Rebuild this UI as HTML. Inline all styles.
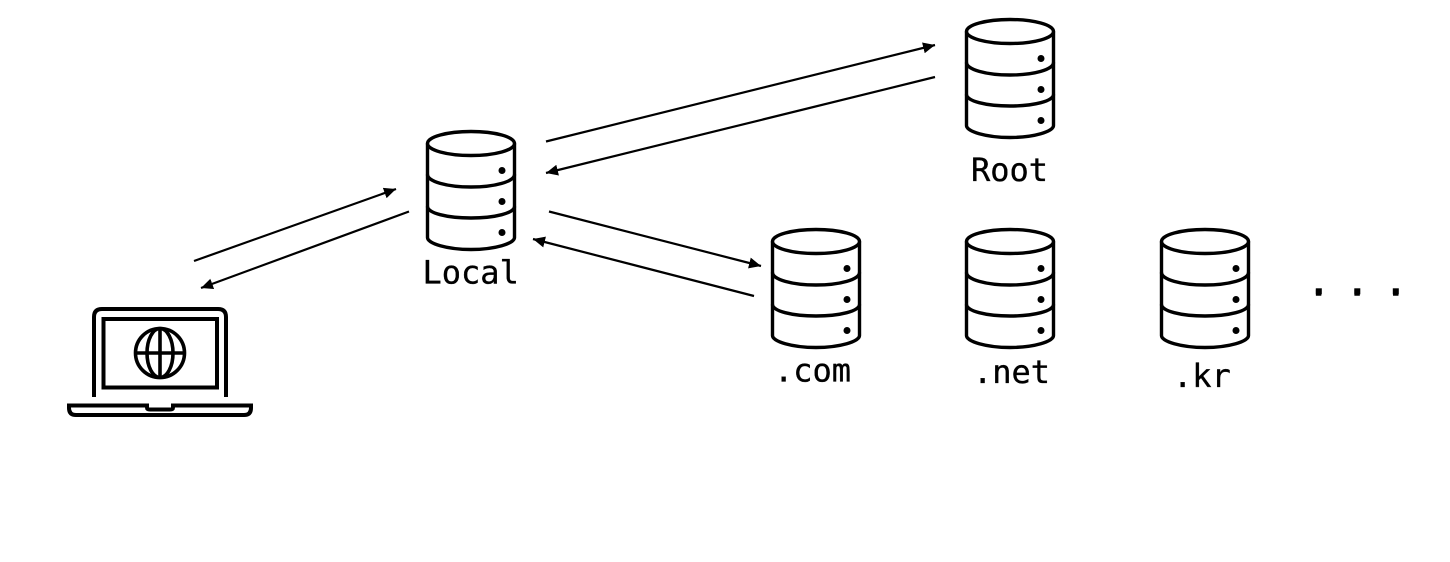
<!DOCTYPE html>
<html>
<head>
<meta charset="utf-8">
<style>
html,body{margin:0;padding:0;background:#fff;width:1450px;height:562px;overflow:hidden}
svg{display:block}
text{font-family:"DejaVu Sans Mono","Liberation Mono",monospace;font-size:32px;fill:#000;stroke:#000;stroke-width:.35px}
</style>
</head>
<body>
<svg width="1450" height="562" viewBox="0 0 1450 562" xmlns="http://www.w3.org/2000/svg">
<defs>
<g id="db" fill="none" stroke="#000" stroke-width="3.4">
<ellipse cx="44" cy="13" rx="43.5" ry="12"/>
<path d="M0.5 13V107C0.5 113 20 119 44 119S87.500 113 87.500 107V13"/>
<path d="M0.5 44C0.500 51 20 56.500 44 56.500S87.500 51 87.500 44"/>
<path d="M0.5 76C0.500 82.500 20 87.500 44 87.500S87.500 82.500 87.500 76"/>
<circle cx="75" cy="40" r="3.500" fill="#000" stroke="none"/>
<circle cx="75" cy="71" r="3.500" fill="#000" stroke="none"/>
<circle cx="75" cy="102" r="3.500" fill="#000" stroke="none"/>
</g>
<marker id="a" markerUnits="userSpaceOnUse" markerWidth="13" markerHeight="11" refX="12" refY="5.500" orient="auto">
<path d="M0 0L12 5.500L0 11Z" fill="#000"/>
</marker>
</defs>

<use href="#db" x="427" y="130.500"/>
<use href="#db" x="966" y="18.500"/>
<use href="#db" x="772" y="228.500"/>
<use href="#db" x="966" y="228.500"/>
<use href="#db" x="1161" y="228.500"/>

<g stroke="#000" stroke-width="2.200" fill="none">
<line x1="194" y1="261" x2="396" y2="189" marker-end="url(#a)"/>
<line x1="409" y1="211.500" x2="201" y2="288" marker-end="url(#a)"/>
<line x1="546" y1="141.500" x2="935" y2="45" marker-end="url(#a)"/>
<line x1="935" y1="77" x2="546" y2="173" marker-end="url(#a)"/>
<line x1="549" y1="211.500" x2="761" y2="266" marker-end="url(#a)"/>
<line x1="754" y1="296" x2="533" y2="239" marker-end="url(#a)"/>
</g>

<g fill="none" stroke="#000" stroke-width="4">
<path d="M94 397V317Q94 309 102 309H218Q226 309 226 317V397"/>
<rect x="103.500" y="319" width="113.500" height="68.500"/>
<circle cx="160" cy="353" r="24.500" stroke-width="3.600"/>
<ellipse cx="160" cy="353" rx="13" ry="24.500" stroke-width="3.600"/>
<line x1="160" y1="328.500" x2="160" y2="377.500" stroke-width="3.600"/>
<line x1="135.500" y1="353" x2="184.500" y2="353" stroke-width="3.600"/>
<path d="M69 405.500H147V407.500Q147 409.500 150 409.500H170Q173 409.500 173 407.500V405.500H251V408Q251 415 244 415H76Q69 415 69 408Z"/>
</g>

<text x="422.500" y="283.500">Local</text>
<text x="971" y="181">Root</text>
<text x="774" y="381.500">.com</text>
<text x="973" y="383">.net</text>
<text x="1173" y="387">.kr</text>
<g fill="#000">
<rect x="1315.800" y="288.300" width="6" height="6"/>
<rect x="1354.300" y="288.300" width="6" height="6"/>
<rect x="1392.800" y="288.300" width="6" height="6"/>
</g>
<text x="1309" y="295" style="stroke-width:1.500px">. . .</text>
</svg>
</body>
</html>
